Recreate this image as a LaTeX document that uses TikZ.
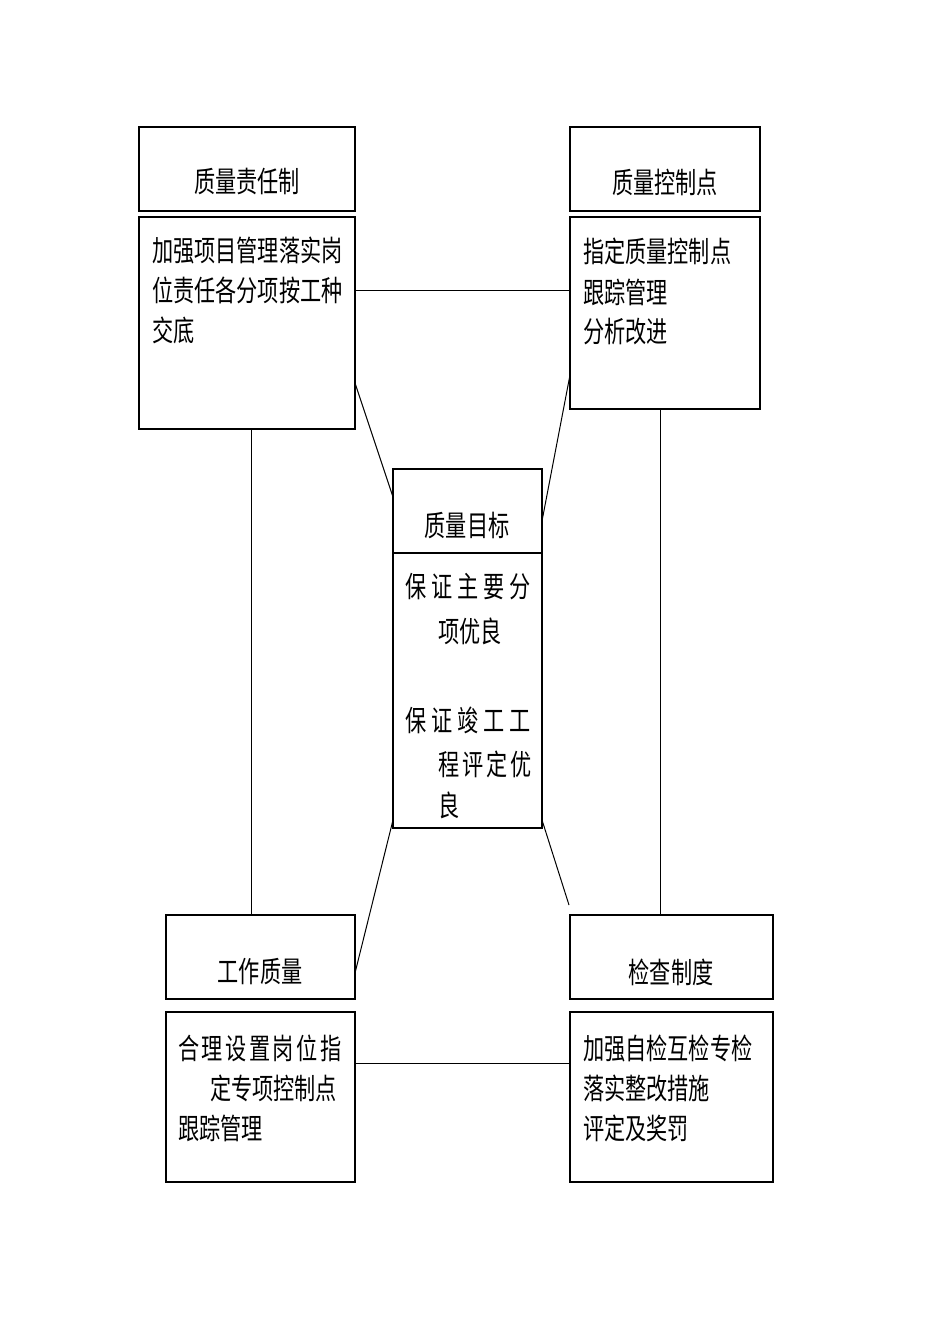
\documentclass[tikz,border=0pt]{standalone}
\usepackage{fontspec}
\newfontfamily\cjk[FakeStretch=0.73]{Noto Sans CJK SC}
\usetikzlibrary{calc}
\newcommand\gapx{\hspace{5pt}}
\newcommand\gapy{\hspace{3pt}}
\begin{document}
\begin{tikzpicture}[x=1pt,y=-1pt,
  box/.style={draw, line width=1.2pt, inner sep=0pt, outer sep=0pt, anchor=north west},
  txt/.style={inner sep=0pt, outer sep=0pt, font=\cjk\fontsize{29}{32}\selectfont},
  lt/.style={txt, anchor=west},
  ln/.style={line width=1pt}]
\useasboundingbox (0,0) rectangle (950,1344);
% boxes
\node[box, minimum width=216pt, minimum height=84pt]  (b1t) at (139,127) {};
\node[box, minimum width=216pt, minimum height=212pt] (b1b) at (139,217) {};
\node[box, minimum width=190pt, minimum height=84pt]  (b2t) at (570,127) {};
\node[box, minimum width=190pt, minimum height=192pt] (b2b) at (570,217) {};
\node[box, minimum width=149pt, minimum height=84pt]  (ct)  at (393,469) {};
\node[box, minimum width=149pt, minimum height=275pt] (cb)  at (393,553) {};
\node[box, minimum width=189pt, minimum height=84pt]  (b4t) at (166,915) {};
\node[box, minimum width=189pt, minimum height=170pt] (b4b) at (166,1012) {};
\node[box, minimum width=203pt, minimum height=84pt]  (b5t) at (570,915) {};
\node[box, minimum width=203pt, minimum height=170pt] (b5b) at (570,1012) {};
% titles
\node[txt] (t1) at (247,182) {质量责任制};
\node[txt] (t2) at (665,182) {质量控制点};
\node[txt] (tc) at (467,525) {质量目标};
\node[txt] (t4) at (260,972) {工作质量};
\node[txt] (t5) at (671,972) {检查制度};
% bodies
\node[lt] (b1l1) at (152,250) {加强项目管理落实岗};
\node[lt] (b1l2) at (152,290) {位责任各分项按工种};
\node[lt] (b1l3) at (152,330) {交底};
\node[lt] (b2l1) at (583,251) {指定质量控制点};
\node[lt] (b2l2) at (583,292) {跟踪管理};
\node[lt] (b2l3) at (583,332) {分析改进};
\node[lt] (cl1) at (405,587) {保\gapx 证\gapx 主\gapx 要\gapx 分};
\node[lt] (cl2) at (438,631) {项优良};
\node[lt] (cl3) at (405,720) {保\gapx 证\gapx 竣\gapx 工\gapx 工};
\node[lt] (cl4) at (438,764) {程\gapy 评\gapy 定\gapy 优};
\node[lt] (cl5) at (438,805) {良};
\node[lt] (b4l1) at (178,1048) {合\hspace{2.5pt}理\hspace{2.5pt}设\hspace{2.5pt}置\hspace{2.5pt}岗\hspace{2.5pt}位\hspace{2.5pt}指};
\node[lt] (b4l2) at (210,1088) {定专项控制点};
\node[lt] (b4l3) at (178,1128) {跟踪管理};
\node[lt] (b5l1) at (583,1048) {加强自检互检专检};
\node[lt] (b5l2) at (583,1088) {落实整改措施};
\node[lt] (b5l3) at (583,1128) {评定及奖罚};
% connectors
\draw[ln] ($(b1b.north east)+(0,73)$) -- ($(b2b.north west)+(0,73)$);
\draw[ln] ($(b1b.north east)+(0,166)$) -- ($(ct.north west)+(0,28)$);
\draw[ln] ($(b2b.north west)+(0,158)$) -- ($(ct.north east)+(0,52)$);
\draw[ln] ($(b1b.south west)+(112,0)$) -- ($(b4t.north west)+(85,0)$);
\draw[ln] ($(b2b.south west)+(90,0)$) -- ($(b5t.north west)+(90,0)$);
\draw[ln] ($(cb.south west)+(0,-8)$) -- ($(b4t.north east)+(0,58)$);
\coordinate (e7) at (569,905);
\draw[ln] ($(cb.south east)+(0,-8)$) -- (e7);
\draw[ln] ($(b4b.north east)+(0,51)$) -- ($(b5b.north west)+(0,51)$);
\end{tikzpicture}
\end{document}
